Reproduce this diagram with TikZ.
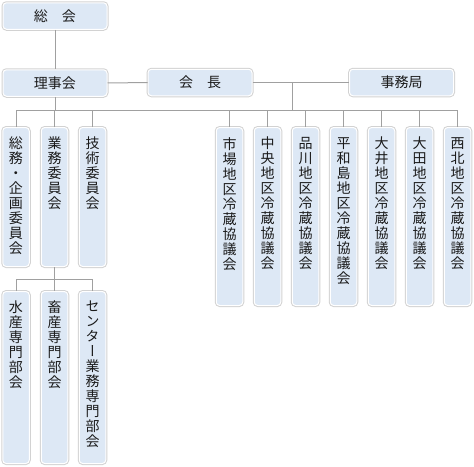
\documentclass[tikz,border=0pt]{standalone}
\usepackage{fontspec}
\newfontfamily\jp{Noto Sans CJK JP}
\newfontfamily\jpv[RawFeature=+vert]{Noto Sans CJK JP}
\definecolor{boxfill}{HTML}{DDE8F5}
\definecolor{boxedge}{HTML}{D2D2D2}
\definecolor{linec}{HTML}{A0A0A0}
\definecolor{txt}{HTML}{1A1A1A}
\tikzset{
  orgbox/.style={rectangle, rounded corners=3.5pt, fill=boxfill, draw=white, line width=1pt,
    preaction={draw=boxedge, line width=3pt}, inner sep=0pt, text=txt},
  hbox/.style={orgbox, minimum width=104pt, minimum height=26.5pt, font=\jp\fontsize{14}{15}\selectfont},
  vbox/.style={orgbox, minimum width=26.5pt, anchor=north},
  vtext/.style={anchor=north, align=center, inner sep=0pt, text=txt, yshift=-10pt,
    font=\jpv\fontsize{14}{15}\selectfont},
  conn/.style={draw=linec, line width=1pt},
}
\begin{document}
\begin{tikzpicture}[x=1pt, y=-1pt]
\useasboundingbox (0,0) rectangle (474,466);
\coordinate (bus) at (0,110);
\coordinate (bus2) at (0,279);
\coordinate (j) at (292,82.5);

\node[hbox] (sokai) at (55,16) {総　会};
\node[hbox] (riji) at (55,83) {理事会};
\node[hbox] (kaicho) at (200,82.5) {会　長};
\node[hbox] (jimu) at (401.5,82.5) {事務局};

% top-left group
\node[vbox, minimum height=139pt, label={[vtext]north:総\\務\\・\\企\\画\\委\\員\\会}] (soumu) at (16,127) {};
\node[vbox, minimum height=139pt, label={[vtext]north:業\\務\\委\\員\\会}] (gyomu) at (54.5,127) {};
\node[vbox, minimum height=139pt, label={[vtext]north:技\\術\\委\\員\\会}] (gijutsu) at (92.5,127) {};

% right group
\node[vbox, minimum height=178pt, label={[vtext]north:市\\場\\地\\区\\冷\\蔵\\協\\議\\会}] (ichiba) at (229.5,127) {};
\node[vbox, minimum height=178pt, label={[vtext]north:中\\央\\地\\区\\冷\\蔵\\協\\議\\会}] (chuo) at (267.5,127) {};
\node[vbox, minimum height=178pt, label={[vtext]north:品\\川\\地\\区\\冷\\蔵\\協\\議\\会}] (shinagawa) at (305.5,127) {};
\node[vbox, minimum height=178pt, label={[vtext]north:平\\和\\島\\地\\区\\冷\\蔵\\協\\議\\会}] (heiwajima) at (343.5,127) {};
\node[vbox, minimum height=178pt, label={[vtext]north:大\\井\\地\\区\\冷\\蔵\\協\\議\\会}] (oi) at (381.5,127) {};
\node[vbox, minimum height=178pt, label={[vtext]north:大\\田\\地\\区\\冷\\蔵\\協\\議\\会}] (ota) at (419.5,127) {};
\node[vbox, minimum height=178pt, label={[vtext]north:西\\北\\地\\区\\冷\\蔵\\協\\議\\会}] (seihoku) at (457.5,127) {};

% bottom group
\node[vbox, minimum height=172pt, label={[vtext]north:水\\産\\専\\門\\部\\会}] (suisan) at (16,291) {};
\node[vbox, minimum height=172pt, label={[vtext]north:畜\\産\\専\\門\\部\\会}] (chikusan) at (54.5,291) {};
\node[vbox, minimum height=172pt, label={[vtext]north:セ\\ン\\タ\\ー\\業\\務\\専\\門\\部\\会}] (center) at (92.5,291) {};

% connectors
\draw[conn] (sokai) -- (riji);
\draw[conn] (riji) -- (kaicho);
\draw[conn] (kaicho) -- (jimu);
\draw[conn] (j) -- (j |- bus);
\draw[conn] (soumu.north |- bus) -- (seihoku.north |- bus);
\draw[conn] (riji) -- (riji.south |- bus);
\foreach \n in {soumu,gyomu,gijutsu,ichiba,chuo,shinagawa,heiwajima,oi,ota,seihoku}
  \draw[conn] (\n) -- (\n.north |- bus);
\draw[conn] (gyomu) -- (gyomu.south |- bus2);
\draw[conn] (suisan.north |- bus2) -- (center.north |- bus2);
\foreach \n in {suisan,chikusan,center}
  \draw[conn] (\n) -- (\n.north |- bus2);
\end{tikzpicture}
\end{document}
